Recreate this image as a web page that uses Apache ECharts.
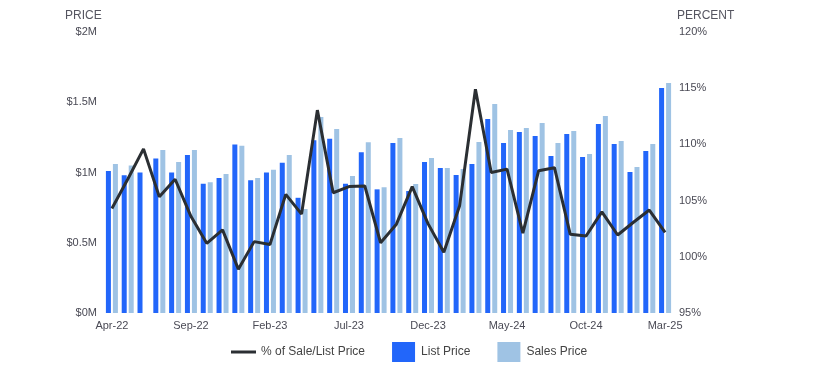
<!DOCTYPE html>
<html>
<head>
<meta charset="utf-8">
<script src="https://cdn.jsdelivr.net/npm/echarts@6/dist/echarts.min.js"></script>
<style>html,body{margin:0;padding:0;background:#fff;}#c{width:815px;height:374px;}</style>
</head>
<body>
<div id="c"></div>
<script>
const categories = ['Apr-22','May-22','Jun-22','Jul-22','Aug-22','Sep-22','Oct-22','Nov-22','Dec-22','Jan-23','Feb-23','Mar-23',
  'Apr-23','May-23','Jun-23','Jul-23','Aug-23','Sep-23','Oct-23','Nov-23','Dec-23','Jan-24','Feb-24','Mar-24',
  'Apr-24','May-24','Jun-24','Jul-24','Aug-24','Sep-24','Oct-24','Nov-24','Dec-24','Jan-25','Feb-25','Mar-25'];
const listPrice = [1.01,0.98,1.00,1.10,1.00,1.125,0.92,0.96,1.20,0.945,1.00,1.07,
  0.82,1.23,1.24,0.92,1.145,0.88,1.21,0.868,1.075,1.032,0.982,1.06,
  1.38,1.21,1.288,1.26,1.117,1.274,1.11,1.345,1.203,1.003,1.153,1.601];
const salesPrice = [1.06,1.05,null,1.16,1.075,1.16,0.93,0.99,1.19,0.96,1.02,1.125,
  0.74,1.395,1.31,0.975,1.215,0.895,1.245,0.918,1.103,1.032,1.025,1.217,
  1.487,1.302,1.317,1.352,1.21,1.295,1.132,1.402,1.224,1.039,1.203,1.637];
const pctSaleList = [104.3,106.9,109.6,105.35,106.9,103.6,101.2,102.4,98.9,101.35,101.1,105.55,
  103.8,113.05,105.7,106.25,106.3,101.25,102.9,106.24,102.95,100.4,104.55,114.9,
  107.5,107.8,102.1,107.66,107.93,102.0,101.85,104.0,101.94,103.07,104.16,102.18];
const priceTicks = ['$0M','$0.5M','$1M','$1.5M','$2M'];
const pctTicks = ['95%','100%','105%','110%','115%','120%'];

const chart = echarts.init(document.getElementById('c'));
const labelColor = '#4a4a55';
chart.setOption({
  animation: false,
  textStyle: { fontFamily: 'Liberation Sans, Arial, sans-serif' },
  grid: { left: 104, right: 142, top: 32, bottom: 61 },
  graphic: [
    { type: 'text', left: 65, top: 10, style: { text: 'PRICE', font: '12px Liberation Sans, Arial, sans-serif', fill: '#555560' } },
    { type: 'text', left: 677, top: 10, style: { text: 'PERCENT', font: '12px Liberation Sans, Arial, sans-serif', fill: '#555560' } }
  ],
  legend: {
    left: 226, top: 337, itemWidth: 25, itemHeight: 20, itemGap: 27,
    textStyle: { fontSize: 12, color: '#444', padding: [0,0,0,0] },
    data: [
      { name: '% of Sale/List Price', icon: 'path://M0,0 H25 V3 H0 Z', itemStyle: { color: '#2b2f33' } },
      { name: 'List Price', icon: 'path://M0,0 H23 V20 H0 Z' },
      { name: 'Sales Price', icon: 'path://M0,0 H23 V20 H0 Z' }
    ]
  },
  xAxis: {
    type: 'category', data: categories,
    axisLine: { show: false }, axisTick: { show: false },
    axisLabel: { interval: 4, color: labelColor, fontSize: 11, margin: 7 }
  },
  yAxis: [
    { type: 'value', min: 0, max: 2, interval: 0.5, splitLine: { show: false },
      axisLine: { show: false }, axisTick: { show: false },
      axisLabel: { color: labelColor, fontSize: 11, margin: 7, formatter: (v) => priceTicks[Math.round(v / 0.5)] } },
    { type: 'value', min: 95, max: 120, interval: 5, splitLine: { show: false },
      axisLine: { show: false }, axisTick: { show: false },
      axisLabel: { color: labelColor, fontSize: 11, margin: 6, formatter: (v) => pctTicks[Math.round((v - 95) / 5)] } }
  ],
  series: [
    { name: 'List Price', type: 'bar', data: listPrice, barWidth: 5, barGap: '40%', itemStyle: { color: '#2266fa' }, z: 1 },
    { name: 'Sales Price', type: 'bar', data: salesPrice, barWidth: 5, barGap: '40%', itemStyle: { color: '#9fc3e4' }, z: 1 },
    { name: '% of Sale/List Price', type: 'line', yAxisIndex: 1, data: pctSaleList, symbol: 'none',
      lineStyle: { color: '#2b2f33', width: 3 }, itemStyle: { color: '#2b2f33' }, z: 5 }
  ]
});
</script>
</body>
</html>
